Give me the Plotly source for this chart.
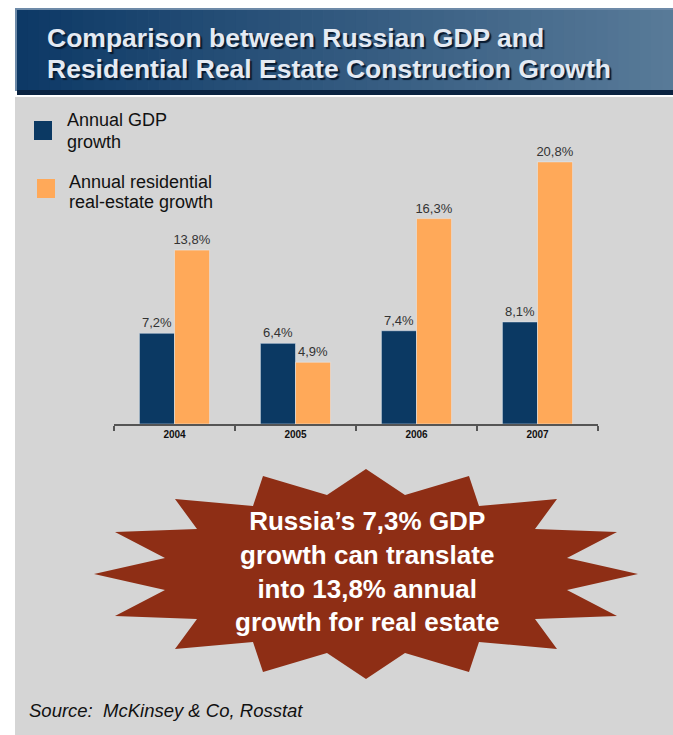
import plotly.graph_objects as go

# Data
years = ["2004", "2005", "2006", "2007"]
gdp_growth = [7.2, 6.4, 7.4, 8.1]
real_estate_growth = [13.8, 4.9, 16.3, 20.8]
series_names = ["Annual GDP growth", "Annual residential real-estate growth"]

title_lines = ["Comparison between Russian GDP and",
               "Residential Real Estate Construction Growth"]
callout_text = "Russia’s 7,3% GDP<br>growth can translate<br>into 13,8% annual<br>growth for real estate"
source_text = "Source:  McKinsey & Co, Rosstat"

NAVY = "#0b3963"
ORANGE = "#ffa959"
PANEL = "#d5d5d5"
BURST = "#8e2e15"
FONT = "Liberation Sans, Arial, sans-serif"

W, H = 673, 735
L, R, T, B = 114, 75, 140, 311
PW, PH = W - L - R, H - T - B


def px(x):
    return (x - L) / PW


def py(y):
    return (H - B - y) / PH


fig = go.Figure()
fig.add_bar(x=years, y=gdp_growth, name=series_names[0], marker_color=NAVY,
            texttemplate="%{y:.1f}%", textposition="outside", constraintext="none",
            textfont=dict(size=13, color="#333333", family=FONT), cliponaxis=False)
fig.add_bar(x=years, y=real_estate_growth, name=series_names[1], marker_color=ORANGE,
            texttemplate="%{y:.1f}%", textposition="outside", constraintext="none",
            textfont=dict(size=13, color="#333333", family=FONT), cliponaxis=False)

shapes = []
# grey content panel
shapes.append(dict(type="rect", xref="paper", yref="paper", layer="below",
                   x0=px(15), x1=px(W), y0=py(97), y1=py(H),
                   fillcolor=PANEL, line_width=0))
# title banner: light edge, dark bottom shadow, gradient fill
shapes.append(dict(type="rect", xref="paper", yref="paper", layer="below",
                   x0=px(15), x1=px(W), y0=py(8), y1=py(91),
                   fillcolor="#6d8aa8", line_width=0))
shapes.append(dict(type="rect", xref="paper", yref="paper", layer="below",
                   x0=px(17), x1=px(W), y0=py(90), y1=py(95),
                   fillcolor="#0a2341", line_width=0))
n = 60
c0 = (13, 57, 102)
c1 = (88, 122, 152)
x_start, x_end = 17, W
for i in range(n):
    t = i / (n - 1)
    col = tuple(round(a + (b - a) * t) for a, b in zip(c0, c1))
    xa = x_start + (x_end - x_start) * i / n
    xb = x_start + (x_end - x_start) * (i + 1) / n + 0.6
    shapes.append(dict(type="rect", xref="paper", yref="paper", layer="below",
                       x0=px(xa), x1=px(min(xb, W)), y0=py(10), y1=py(90),
                       fillcolor="rgb(%d,%d,%d)" % col, line_width=0))

# starburst callout
cx, cy = 366, 574
star = [(0, -105), (39, -79), (103, -98), (113, -68), (191, -75), (169, -45),
        (251, -42), (201, -16), (272, 0), (201, 16), (251, 42), (169, 45),
        (191, 75), (113, 68), (103, 98), (39, 79), (0, 105), (-39, 79),
        (-103, 98), (-113, 68), (-191, 75), (-169, 45), (-251, 42), (-201, 16),
        (-272, 0), (-201, -16), (-251, -42), (-169, -45), (-191, -75),
        (-113, -68), (-103, -98), (-39, -79)]
path = "M " + " L ".join("%.5f,%.5f" % (px(cx + dx), py(cy + dy)) for dx, dy in star) + " Z"
shapes.append(dict(type="path", xref="paper", yref="paper", layer="below",
                   path=path, fillcolor=BURST, line_width=0))

# legend swatches
shapes.append(dict(type="rect", xref="paper", yref="paper",
                   x0=px(34), x1=px(52), y0=py(121), y1=py(140),
                   fillcolor=NAVY, line_width=0))
shapes.append(dict(type="rect", xref="paper", yref="paper",
                   x0=px(37), x1=px(55), y0=py(179), y1=py(198),
                   fillcolor=ORANGE, line_width=0))

annotations = []


def label(text, x, y, size, color="#111111", xanchor="left", **kw):
    annotations.append(dict(text=text, x=px(x), y=py(y), xref="paper", yref="paper",
                            xanchor=xanchor, yanchor="middle", showarrow=False,
                            font=dict(family=FONT, size=size, color=color, **kw.pop("font", {})),
                            **kw))


title_font = dict(shadow="2px 2px 1px #081a30")
label("<b>%s</b>" % title_lines[0], 45, 38, 26.5, color="#e4eaf3", font=title_font)
label("<b>%s</b>" % title_lines[1], 45, 69, 26.5, color="#e4eaf3", font=title_font)

gdp_words = series_names[0].rsplit(" ", 1)
re_words = series_names[1].split(" ", 2)
label("%s" % gdp_words[0], 65, 120, 18)
label("%s" % gdp_words[1], 65, 142, 18)
label(" ".join(re_words[:2]), 67, 182, 18)
label(re_words[2], 67, 202, 18)

label("<b>%s</b>" % callout_text, 367, 571, 26, color="#ffffff", xanchor="center")
label("<i>%s</i>" % source_text, 27, 710, 18.5)

fig.update_layout(
    width=W, height=H,
    margin=dict(l=L, r=R, t=T, b=B, pad=0),
    paper_bgcolor="#ffffff", plot_bgcolor="rgba(0,0,0,0)",
    barmode="group", bargap=0.42, bargroupgap=0,
    showlegend=False, separators=", ",
    shapes=shapes, annotations=annotations,
    font=dict(family=FONT),
    xaxis=dict(showline=True, linecolor="#555555", linewidth=2,
               ticks="outside", tickson="boundaries", ticklen=5,
               tickcolor="#555555", tickwidth=2, showgrid=False,
               tickfont=dict(size=10, color="#111111", weight="bold", family=FONT),
               fixedrange=True),
    yaxis=dict(range=[0, PH / 12.6], visible=False, showgrid=False,
               zeroline=False, fixedrange=True),
)

fig.write_html("out.html", config={"displayModeBar": False})
